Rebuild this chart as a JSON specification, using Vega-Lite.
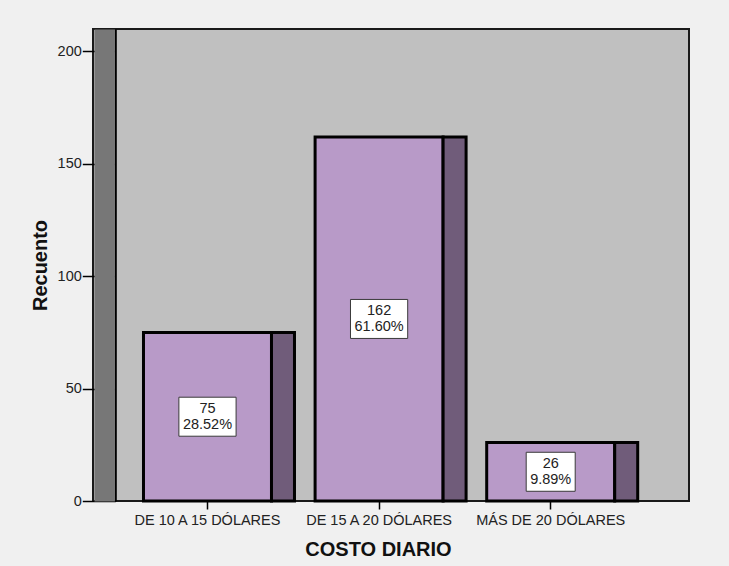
{
  "$schema": "https://vega.github.io/schema/vega-lite/v6.json",
  "width": 596,
  "height": 472,
  "autosize": "none",
  "padding": {"left": 93, "top": 29, "right": 40, "bottom": 65},
  "background": "#f0f0f0",
  "config": {
    "view": {"fill": "#c0c0c0", "stroke": "#1a1a1a", "strokeWidth": 2},
    "font": "Liberation Sans"
  },
  "data": {
    "values": [
      {"costo": "DE 10 A 15 DÓLARES", "n": 75, "pct": 0.2852},
      {"costo": "DE 15 A 20 DÓLARES", "n": 162, "pct": 0.616},
      {"costo": "MÁS DE 20 DÓLARES", "n": 26, "pct": 0.0989}
    ]
  },
  "layer": [
    {
      "encoding": {
        "x": {
          "field": "costo",
          "type": "nominal",
          "sort": null,
          "scale": {"paddingInner": 0.2541, "paddingOuter": 0.3636, "align": 0.4046},
          "axis": {
            "title": "COSTO DIARIO",
            "labelAngle": 0,
            "domain": false,
            "ticks": true,
            "tickSize": 8,
            "tickColor": "#000",
            "tickWidth": 1.5,
            "labelFontSize": 14.5,
            "labelColor": "#222",
            "labelPadding": 4,
            "titleFontSize": 20,
            "titleFontWeight": "bold",
            "titleColor": "#111",
            "titleX": 285,
            "titlePadding": 13
          }
        },
        "y": {
          "field": "n",
          "type": "quantitative",
          "scale": {"domain": [0, 210], "nice": false},
          "axis": {
            "title": "Recuento",
            "orient": "left",
            "offset": -22.3,
            "values": [0, 50, 100, 150, 200],
            "domainColor": "#000",
            "domainWidth": 2,
            "tickSize": 33,
            "tickColor": "#000",
            "tickWidth": 1.5,
            "labelPadding": 1,
            "labelFontSize": 14.5,
            "labelColor": "#222",
            "grid": false,
            "titleFontSize": 20,
            "titleFontWeight": "bold",
            "titleColor": "#111",
            "titlePadding": 7,
            "zindex": 0
          }
        }
      },
      "layer": [
        {
          "mark": {"type": "bar", "fill": "#b89ac8", "stroke": "#000", "strokeWidth": 3}
        },
        {
          "mark": {"type": "bar", "fill": "#705c7a", "stroke": "#000", "strokeWidth": 3, "width": 23, "xOffset": 75.5}
        }
      ]
    },
    {
      "encoding": {
        "x": {"field": "costo", "type": "nominal", "sort": null},
        "y": {
          "field": "n",
          "type": "quantitative",
          "scale": {"domain": [0, 420], "nice": false},
          "axis": {
            "orient": "left",
            "offset": -11.2,
            "domainColor": "#777777",
            "domainWidth": 20.5,
            "ticks": false,
            "labels": false,
            "grid": false,
            "title": null,
            "zindex": 1
          }
        }
      },
      "layer": [
        {
          "mark": {"type": "point", "filled": true, "fill": "#ffffff", "stroke": "#3a3a3a", "strokeWidth": 1, "opacity": 1, "size": 1600},
          "encoding": {
            "shape": {
              "condition": {"test": "datum.pct < 0.1", "value": "M-1.225,-0.975L1.225,-0.975L1.225,0.975L-1.225,0.975Z"},
              "value": "M-1.43,-0.975L1.43,-0.975L1.43,0.975L-1.43,0.975Z"
            }
          }
        },
        {
          "mark": {"type": "text", "fontSize": 14.5, "color": "#222", "baseline": "middle", "dy": -8},
          "encoding": {"text": {"field": "n", "type": "quantitative"}}
        },
        {
          "mark": {"type": "text", "fontSize": 14.5, "color": "#222", "baseline": "middle", "dy": 8},
          "encoding": {"text": {"field": "pct", "type": "quantitative", "format": ".2%"}}
        }
      ]
    }
  ],
  "resolve": {"scale": {"y": "independent"}, "axis": {"y": "independent"}}
}
